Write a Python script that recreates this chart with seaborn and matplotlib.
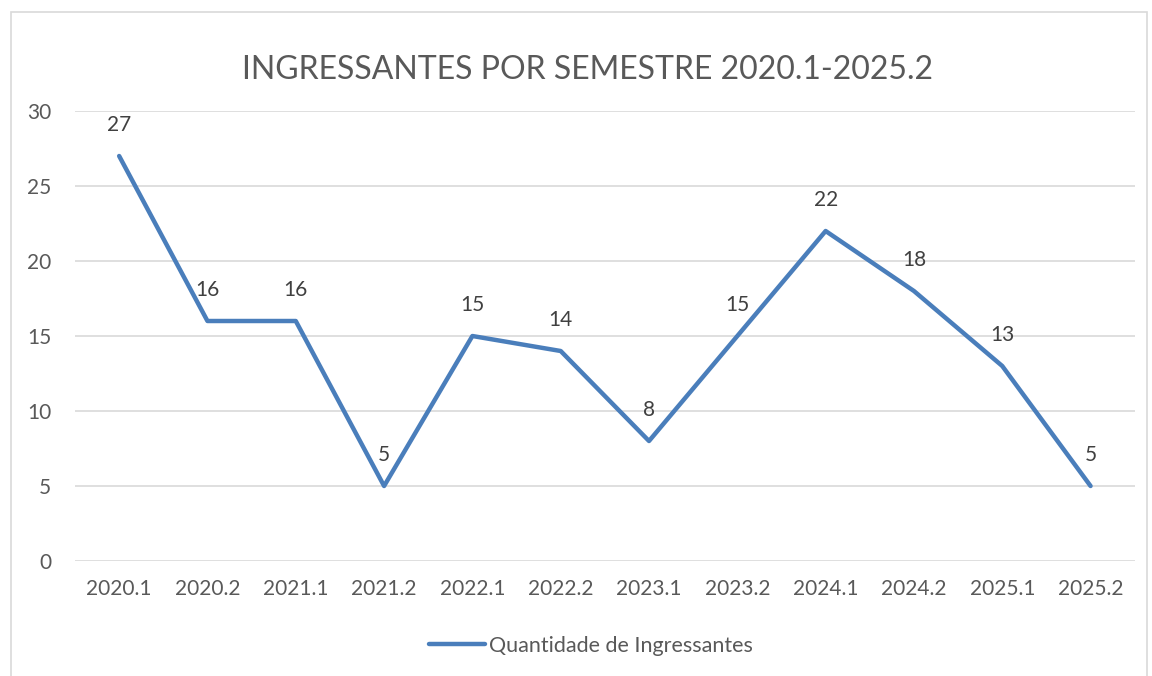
import pandas as pd
import matplotlib.pyplot as plt
import seaborn as sns
from matplotlib.patches import Rectangle

# data
semestres = ["2020.1", "2020.2", "2021.1", "2021.2", "2022.1", "2022.2",
             "2023.1", "2023.2", "2024.1", "2024.2", "2025.1", "2025.2"]
ingressantes = [27, 16, 16, 5, 15, 14, 8, 15, 22, 18, 13, 5]
y_ticks = [0, 5, 10, 15, 20, 25, 30]

df = pd.DataFrame({"Semestre": semestres, "Quantidade de Ingressantes": ingressantes})

sns.set_style("white")
plt.rcParams['font.family'] = ['Lato', 'DejaVu Sans']

text_color = "#595959"
line_color = "#4a7ebb"

fig = plt.figure(figsize=(11.52, 6.76), dpi=100)
ax = fig.add_axes([0.0651, 0.1701, 0.9199, 0.6657])

x_pos = list(range(len(semestres)))
sns.lineplot(x=x_pos, y=df["Quantidade de Ingressantes"], ax=ax, color=line_color,
             linewidth=3.2, solid_capstyle="round", solid_joinstyle="round",
             label="Quantidade de Ingressantes", zorder=3)

# data labels above each point
for x, v in zip(x_pos, ingressantes):
    ax.annotate(str(v), (x, v), xytext=(0, 22), textcoords="offset points",
                ha="center", va="center", fontsize=15, color="#404040")

ax.set_xlim(-0.5, len(semestres) - 0.5)
ax.set_ylim(0, 30)
ax.set_yticks(y_ticks)
ax.set_xticks(x_pos)
ax.set_xticklabels(semestres)
ax.tick_params(axis="both", length=0, labelsize=15, labelcolor=text_color)
ax.tick_params(axis="x", pad=13)
ax.tick_params(axis="y", pad=17)
ax.grid(axis="y", color="#d9d9d9", linewidth=1.2)
ax.set_xlabel("")
ax.set_ylabel("")
for s in ax.spines.values():
    s.set_visible(False)

fig.suptitle("INGRESSANTES POR SEMESTRE 2020.1-2025.2", x=0.51, y=0.918,
             fontsize=23, color=text_color)

leg = ax.legend(loc="center", bbox_to_anchor=(0.513, 1 - 646 / 676), bbox_transform=fig.transFigure,
                frameon=False, fontsize=15.5, handlelength=2.6, handletextpad=0.2)
for t in leg.get_texts():
    t.set_color(text_color)

# outer chart border
fig.patches.append(Rectangle((11 / 1152, -0.05), (1147 - 11) / 1152, 1.05 - 12 / 676,
                             transform=fig.transFigure, fill=False,
                             edgecolor="#d9d9d9", linewidth=1.2))

fig.savefig("out.png", dpi=100)
